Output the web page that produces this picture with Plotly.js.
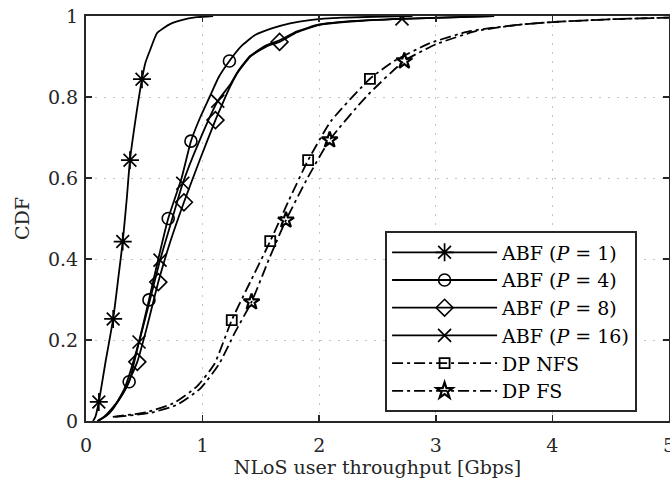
<!DOCTYPE html>
<html>
<head>
<meta charset="utf-8">
<script src="https://cdn.plot.ly/plotly-3.0.1.min.js"></script>
<style>html,body{margin:0;padding:0;background:#fff;}#chart{width:670px;height:483px;}</style>
</head>
<body>
<div id="chart"></div>
<script>
// ---- data ----
const xTickVals = [0, 1, 2, 3, 4, 5];
const xTickText = ['0', '1', '2', '3', '4', '5'];
const yTickVals = [0, 0.2, 0.4, 0.6, 0.8, 1];
const yTickText = ['0', '0.2', '0.4', '0.6', '0.8', '1'];

const seriesNames = ['ABF (<i>P</i> = 1)', 'ABF (<i>P</i> = 4)', 'ABF (<i>P</i> = 8)', 'ABF (<i>P</i> = 16)', 'DP NFS', 'DP FS'];

const abf1X = [0.06, 0.08, 0.11, 0.17, 0.233, 0.28, 0.315, 0.35, 0.377, 0.42, 0.48, 0.51, 0.55, 0.61, 0.72, 0.82, 0.95, 1.09];
const abf1Y = [0, 0.01, 0.047, 0.15, 0.252, 0.36, 0.443, 0.55, 0.644, 0.735, 0.844, 0.885, 0.916, 0.958, 0.98, 0.99, 0.997, 1.0];
const abf1MarkX = [0.11, 0.233, 0.315, 0.377, 0.48];

const abf4X = [0.10, 0.16, 0.22, 0.30, 0.37, 0.45, 0.54, 0.62, 0.705, 0.82, 0.90, 0.98, 1.06, 1.14, 1.23, 1.33, 1.45, 1.60, 1.75, 1.92, 2.2, 2.8];
const abf4Y = [0, 0.012, 0.03, 0.06, 0.097, 0.19, 0.299, 0.40, 0.50, 0.60, 0.691, 0.75, 0.80, 0.85, 0.889, 0.925, 0.953, 0.97, 0.982, 0.99, 0.996, 1.0];
const abf4MarkX = [0.37, 0.54, 0.705, 0.90, 1.23];

const abf8X = [0.10, 0.17, 0.23, 0.33, 0.44, 0.53, 0.62, 0.72, 0.84, 0.97, 1.11, 1.18, 1.235, 1.30, 1.41, 1.55, 1.66, 1.81, 2.0, 2.3, 2.7, 3.5];
const abf8Y = [0, 0.012, 0.03, 0.075, 0.146, 0.24, 0.343, 0.44, 0.54, 0.64, 0.743, 0.79, 0.825, 0.86, 0.90, 0.925, 0.936, 0.96, 0.978, 0.987, 0.993, 1.0];
const abf8MarkX = [0.44, 0.62, 0.84, 1.11, 1.66];

const abf16X = [0.10, 0.17, 0.23, 0.33, 0.455, 0.545, 0.635, 0.73, 0.83, 0.97, 1.13, 1.235, 1.30, 1.41, 1.55, 1.66, 1.81, 2.0, 2.3, 2.71, 3.5];
const abf16Y = [0, 0.012, 0.03, 0.08, 0.195, 0.295, 0.397, 0.49, 0.587, 0.69, 0.79, 0.83, 0.862, 0.902, 0.928, 0.94, 0.962, 0.979, 0.988, 0.993, 1.0];
const abf16MarkX = [0.455, 0.635, 0.83, 1.13, 2.71];

const nfsX = [0.23, 0.52, 0.75, 0.95, 1.10, 1.25, 1.42, 1.58, 1.74, 1.905, 2.1, 2.435, 2.65, 2.95, 3.3, 3.7, 4.0, 4.5, 5.0];
const nfsY = [0.01, 0.022, 0.044, 0.085, 0.14, 0.249, 0.35, 0.444, 0.545, 0.644, 0.74, 0.845, 0.89, 0.933, 0.963, 0.978, 0.985, 0.992, 0.996];
const nfsMarkX = [1.25, 1.58, 1.905, 2.435];

const fsX = [0.25, 0.55, 0.78, 0.98, 1.14, 1.28, 1.42, 1.57, 1.715, 1.90, 2.09, 2.4, 2.73, 3.0, 3.35, 3.7, 4.0, 4.5, 5.0];
const fsY = [0.01, 0.02, 0.04, 0.08, 0.14, 0.22, 0.294, 0.40, 0.496, 0.60, 0.694, 0.80, 0.889, 0.93, 0.963, 0.978, 0.985, 0.992, 0.996];
const fsMarkX = [1.42, 1.715, 2.09, 2.73];

// ---- styling ----
const FONT = 'DejaVu Serif, Liberation Serif, serif';
const INK = '#262626';
const solid = 'solid';
const dashDot = '11px,4px,3px,4px';

const styles = [
  {symbol: 'asterisk-open', size: 15, dash: solid, lw: 1.7},
  {symbol: 'circle-open', size: 12, dash: solid, lw: 1.6},
  {symbol: 'diamond-open', size: 13, dash: solid, lw: 1.6},
  {symbol: 'x-thin-open', size: 13, dash: solid, lw: 1.7},
  {symbol: 'square-open', size: 10, dash: dashDot, lw: 1.8},
  {symbol: 'star-open', size: 12, dash: dashDot, lw: 2.2}
];

const curves = [
  [abf1X, abf1Y, abf1MarkX],
  [abf4X, abf4Y, abf4MarkX],
  [abf8X, abf8Y, abf8MarkX],
  [abf16X, abf16Y, abf16MarkX],
  [nfsX, nfsY, nfsMarkX],
  [fsX, fsY, fsMarkX]
];

const traces = curves.map((c, i) => {
  const st = styles[i];
  const idx = c[2].map(mx => c[0].indexOf(mx));
  return {
    type: 'scatter',
    mode: 'lines+markers',
    name: seriesNames[i],
    x: c[0],
    y: c[1],
    line: {color: '#000', width: 1.8, dash: st.dash, shape: 'spline', smoothing: 0.5},
    marker: {symbol: st.symbol, size: st.size, color: '#000', line: {color: '#000', width: st.lw}},
    selectedpoints: idx,
    selected: {marker: {opacity: 1}},
    unselected: {marker: {opacity: 0}},
    hoverinfo: 'skip'
  };
});

const axisCommon = {
  showline: true, linecolor: INK, linewidth: 2, mirror: 'ticks',
  ticks: 'inside', ticklen: 6, tickwidth: 1.5, tickcolor: INK,
  showgrid: true, gridcolor: '#c4c4c4', gridwidth: 1, griddash: '2px,7px',
  zeroline: false,
  tickfont: {family: FONT, size: 19, color: INK},
  ticklabeloverflow: 'allow',
  automargin: false
};

const layout = {
  width: 670, height: 483,
  margin: {l: 86, r: 1, t: 16, b: 62},
  paper_bgcolor: '#fff', plot_bgcolor: '#fff',
  font: {family: FONT, color: INK},
  showlegend: true,
  xaxis: Object.assign({}, axisCommon, {
    range: [0, 5], tickmode: 'array', tickvals: xTickVals, ticktext: xTickText,
    ticklabelstandoff: 6,
    title: {text: 'NLoS user throughput [Gbps]', font: {family: FONT, size: 19, color: INK}, standoff: 5}
  }),
  yaxis: Object.assign({}, axisCommon, {
    range: [0, 1], tickmode: 'array', tickvals: yTickVals, ticktext: yTickText,
    ticklabelstandoff: 2,
    title: {text: 'CDF', font: {family: FONT, size: 19, color: INK}, standoff: 13}
  }),
  legend: {
    x: 0.513, y: 0.468, xanchor: 'left', yanchor: 'top',
    bgcolor: '#fff', bordercolor: INK, borderwidth: 2,
    font: {family: FONT, size: 19, color: '#000'},
    itemwidth: 105, tracegroupgap: 0
  }
};

Plotly.newPlot('chart', traces, layout, {staticPlot: true, displayModeBar: false});
</script>
</body>
</html>
